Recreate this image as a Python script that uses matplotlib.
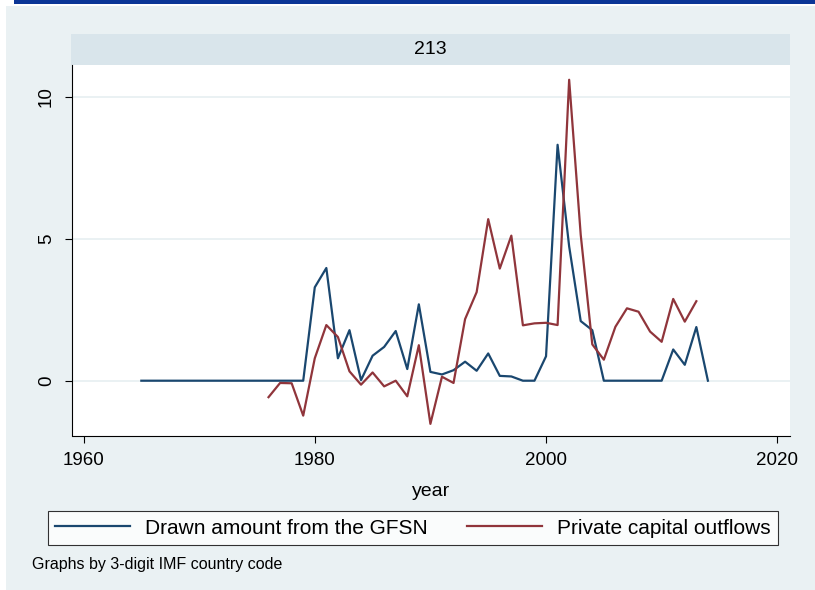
import matplotlib
matplotlib.use("Agg")
import matplotlib.pyplot as plt
from matplotlib.patches import Rectangle
import numpy as np

plt.rcParams['font.family'] = ['Liberation Sans', 'DejaVu Sans']

# Drawn amount from the GFSN, 1965-2014
gfsn_years = list(range(1965, 2015))
gfsn_values = [0.0] * 15 + [
    3.29, 3.97, 0.79, 1.78, 0.02, 0.88, 1.19, 1.75, 0.41, 2.69,   # 1980-1989
    0.31, 0.22, 0.37, 0.67, 0.35, 0.96, 0.17, 0.15, 0.0, 0.0,     # 1990-1999
    0.86, 8.31, 4.73, 2.10, 1.78, 0.0, 0.0, 0.0, 0.0, 0.0,        # 2000-2009
    0.0, 1.10, 0.56, 1.89, 0.0,                                   # 2010-2014
]

# Private capital outflows, 1976-2013
pco_years = list(range(1976, 2014))
pco_values = [
    -0.58, -0.08, -0.09, -1.23,                                   # 1976-1979
    0.79, 1.96, 1.54, 0.33, -0.14, 0.29, -0.20, 0.0, -0.55, 1.25,  # 1980-1989
    -1.52, 0.14, -0.08, 2.17, 3.12, 5.69, 3.95, 5.11, 1.95, 2.02,  # 1990-1999
    2.04, 1.96, 10.6, 5.14, 1.28, 0.74, 1.90, 2.55, 2.43, 1.73,    # 2000-2009
    1.37, 2.88, 2.08, 2.80,                                        # 2010-2013
]

x_ticks = [1960, 1980, 2000, 2020]
y_ticks = [0, 5, 10]
panel_title = "213"
series_labels = ["Drawn amount from the GFSN", "Private capital outflows"]

W, H = 815, 590
fig = plt.figure(figsize=(W / 100, H / 100), dpi=100, facecolor="white")

def px_rect(x0, y0, x1, y1, z, **kw):
    fig.patches.append(Rectangle((x0 / W, 1 - y1 / H), (x1 - x0) / W, (y1 - y0) / H,
                                 transform=fig.transFigure, figure=fig, zorder=z, **kw))

# page header bar and graph background
px_rect(14, 0, W, 4, -3, facecolor="#0b3596", edgecolor="none")
px_rect(6, 6, W, H, -3, facecolor="#eaf1f3", edgecolor="none")
# panel title strip
px_rect(71, 34, 790, 65, -2, facecolor="#d9e5eb", edgecolor="none")
fig.text((71 + 790) / 2 / W, 1 - 49.5 / H, panel_title, ha="center", va="center",
         fontsize=14, color="black")

ax = fig.add_axes([71.5 / W, 1 - 435.5 / H, (790 - 71.5) / W, (435.5 - 65) / H])
ax.set_zorder(1)
ax.set_facecolor("white")
ax.set_xlim(1958.96, 2021.1)
ax.set_ylim(-1.93, 11.12)

for y in y_ticks:
    ax.axhline(y, color="#eaf1f3", lw=1.4, zorder=1)

blue = "#1a476f"
red = "#90353b"
ax.plot(gfsn_years, gfsn_values, color=blue, lw=1.6, zorder=3, label=series_labels[0])
ax.plot(pco_years, pco_values, color=red, lw=1.6, zorder=3, label=series_labels[1])

for s in ["top", "right"]:
    ax.spines[s].set_visible(False)
for s in ["left", "bottom"]:
    ax.spines[s].set_linewidth(0.8)
    ax.spines[s].set_color("black")

ax.set_xticks(x_ticks)
ax.set_yticks(y_ticks)
ax.tick_params(axis="both", direction="out", length=5, width=0.8, labelsize=13.5)
ax.tick_params(axis="x", pad=7)
ax.tick_params(axis="y", pad=7)
for lab in ax.get_yticklabels():
    lab.set_rotation(90)
    lab.set_va("center")
ax.set_xlabel("year", fontsize=14, labelpad=10)

leg = fig.legend(loc="lower left", ncol=2, mode="expand",
                 bbox_to_anchor=(48 / W, 1 - 545 / H, 730 / W, 38 / H),
                 fontsize=15, frameon=True, fancybox=False, handlelength=3.6,
                 handletextpad=0.7, borderaxespad=0, borderpad=0.35)
leg.set_zorder(2)
frame = leg.get_frame()
frame.set_edgecolor("black")
frame.set_linewidth(0.8)
frame.set_facecolor("white")

fig.text(32 / W, 1 - 565 / H, "Graphs by 3-digit IMF country code", ha="left",
         va="center", fontsize=11.5, color="black")

fig.savefig("out.png", dpi=100, facecolor="white")
